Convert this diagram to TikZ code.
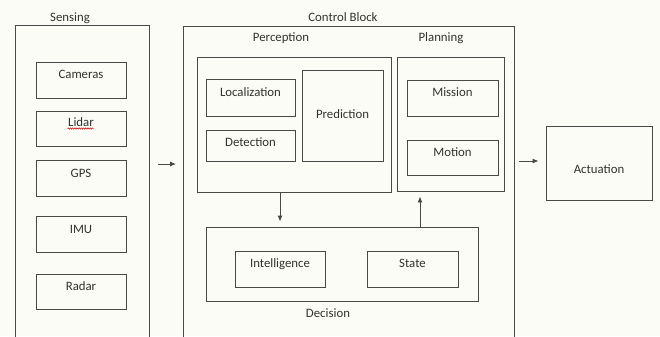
\documentclass[tikz,border=0pt]{standalone}
\usepackage{fontspec}
\setmainfont{Carlito}
\usetikzlibrary{arrows.meta,decorations.pathmorphing}
\definecolor{bg}{RGB}{252,252,246}
\definecolor{ln}{RGB}{72,72,72}
\definecolor{tx}{RGB}{50,50,50}
\begin{document}
\begin{tikzpicture}[x=1bp,y=-1bp,
  box/.style={draw=ln, line width=0.9bp, inner sep=0pt, text=tx,
    font=\fontsize{12.8bp}{15bp}\selectfont},
  lbl/.style={inner sep=0pt, text=tx, font=\fontsize{12.8bp}{15bp}\selectfont},
  arr/.style={draw=ln, line width=0.9bp, -{Latex[length=6bp,width=5bp]}}]
\fill[bg] (0,0) rectangle (660,336);
\useasboundingbox (0,0) rectangle (660,336);
\clip (0,0) rectangle (660,336);

% outer blocks (open at bottom)
\node[box, minimum width=134bp, minimum height=320bp] (sensing) at (82,185) {};
\node[box, minimum width=331bp, minimum height=320bp] (control) at (348.5,186) {};
\node[lbl] (sensingl) at (70,18) {Sensing};
\node[lbl] (controll) at (343,17) {Control Block};

% sensors
\node[box, minimum width=90bp, text height=16bp, text depth=20bp] (cameras) at (81,80) {Cameras};
\node[box, minimum width=90bp, text height=15bp, text depth=20bp] (lidar) at (81,128.5) {Lidar};
\node[box, minimum width=90bp, text height=17bp, text depth=19bp] (gps) at (81,178) {GPS};
\node[box, minimum width=90bp, text height=17bp, text depth=19bp] (imu) at (81,234) {IMU};
\node[box, minimum width=90bp, text height=16bp, text depth=19bp] (radar) at (81,291.5) {Radar};
\draw[red!80!black, line width=0.5bp, decorate,
  decoration={snake, amplitude=0.7bp, segment length=2.2bp}] (67.5,128.5) -- (93.5,128.5);

% perception
\node[box, minimum width=194bp, minimum height=135bp] (perception) at (294,124.5) {};
\node[lbl] (perceptionl) at (281,38) {Perception};
\node[box, minimum width=89bp, text height=17bp, text depth=20bp] (localization) at (250.5,97.5) {Localization};
\node[box, minimum width=89bp, text height=16bp, text depth=15bp] (detection) at (250.5,145.5) {Detection};
\node[box, minimum width=81bp, text height=48bp, text depth=43bp] (prediction) at (342.5,115.5) {Prediction};

% planning
\node[box, minimum width=107bp, minimum height=134bp] (planning) at (450.5,124) {};
\node[lbl] (planningl) at (441,38) {Planning};
\node[box, minimum width=91bp, text height=16bp, text depth=20bp] (mission) at (452.5,98) {Mission};
\node[box, minimum width=91bp, text height=16bp, text depth=19bp] (motion) at (452.5,157.5) {Motion};

% decision
\node[box, minimum width=272bp, minimum height=74bp] (decision) at (342,264) {};
\node[lbl] (decisionl) at (328,313) {Decision};
\node[box, minimum width=90bp, text height=16bp, text depth=20bp] (intelligence) at (280,269) {Intelligence};
\node[box, minimum width=91bp, text height=16bp, text depth=20bp] (state) at (412.5,269) {State};

% actuation
\node[box, minimum width=106bp, text height=47bp, text depth=27bp] (actuation) at (599,163) {Actuation};

% connectors
\coordinate (sout) at (158,164);
\coordinate (cin) at (176,164);
\draw[arr] (sout) -- (cin);
\coordinate (pout) at (519,161);
\draw[arr, shorten >=7bp] (pout) -- (actuation.west |- pout);
\coordinate (pd) at (280,0);
\draw[arr, shorten >=5bp] (perception.south -| pd) -- (decision.north -| pd);
\coordinate (dp) at (420,0);
\draw[arr, shorten >=5bp] (decision.north -| dp) -- (planning.south -| dp);
\end{tikzpicture}
\end{document}
